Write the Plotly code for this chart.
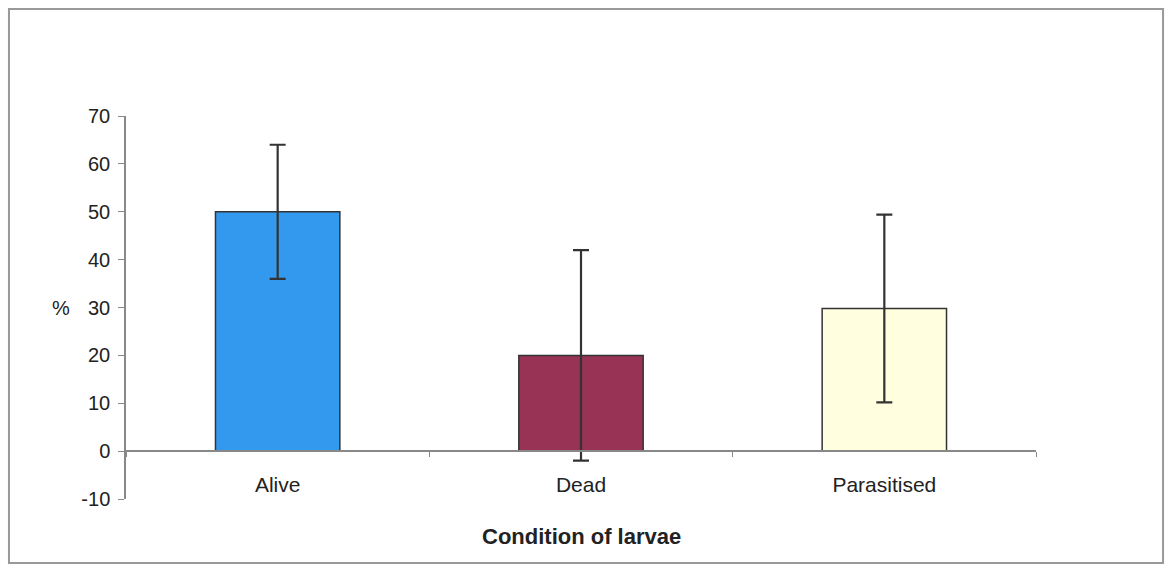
import plotly.graph_objects as go

categories = ["Alive", "Dead", "Parasitised"]
values = [50, 20, 29.8]
errors = [14, 22, 19.6]
colors = ["#3399EE", "#993355", "#FFFFE0"]
y_ticks = [-10, 0, 10, 20, 30, 40, 50, 60, 70]

fig = go.Figure()
fig.add_trace(go.Bar(
    x=categories, y=values,
    marker=dict(color=colors, line=dict(color="#333333", width=1.5)),
    width=0.41,
    error_y=dict(type="data", array=errors, visible=True,
                 color="#333333", thickness=2.2, width=8),
))

fig.update_layout(
    width=1169, height=568,
    margin=dict(l=126, r=133, t=116, b=69),
    paper_bgcolor="white", plot_bgcolor="white",
    showlegend=False,
    font=dict(family="Liberation Sans, Arial, sans-serif", size=20, color="#222222"),
    xaxis=dict(
        anchor="free", position=0.125,
        showline=True, linecolor="#888888", linewidth=1.5,
        ticks="outside", ticklen=5, tickcolor="#888888", tickson="boundaries",
        ticklabelstandoff=15,
        showgrid=False, zeroline=False, range=[-0.5, 2.5],
        tickfont=dict(size=21, color="#222222"),
    ),
    yaxis=dict(
        range=[-10, 70], tickvals=y_ticks,
        ticktext=[str(v) for v in y_ticks],
        showline=True, linecolor="#888888", linewidth=1.5,
        ticks="outside", ticklen=6, tickcolor="#888888",
        ticklabelstandoff=4,
        showgrid=False, zeroline=False,
        tickfont=dict(size=20, color="#222222"),
    ),
    shapes=[dict(type="rect", xref="paper", yref="paper",
                 x0=-0.1286, x1=1.1396, y0=-0.1671, y1=1.2794,
                 line=dict(color="#999999", width=2))],
    annotations=[
        dict(text="%", xref="paper", yref="y", x=-0.071, y=30, showarrow=False,
             xanchor="center", yanchor="middle",
             font=dict(size=20, color="#222222")),
        dict(text="<b>Condition of larvae</b>", xref="paper", yref="paper",
             x=0.5, y=-0.099, showarrow=False, xanchor="center", yanchor="middle",
             font=dict(size=22, color="#222222")),
    ],
)

fig.write_html("out.html", config={"displayModeBar": False},
               post_script="document.body.style.margin='0';document.body.style.overflow='hidden';")
